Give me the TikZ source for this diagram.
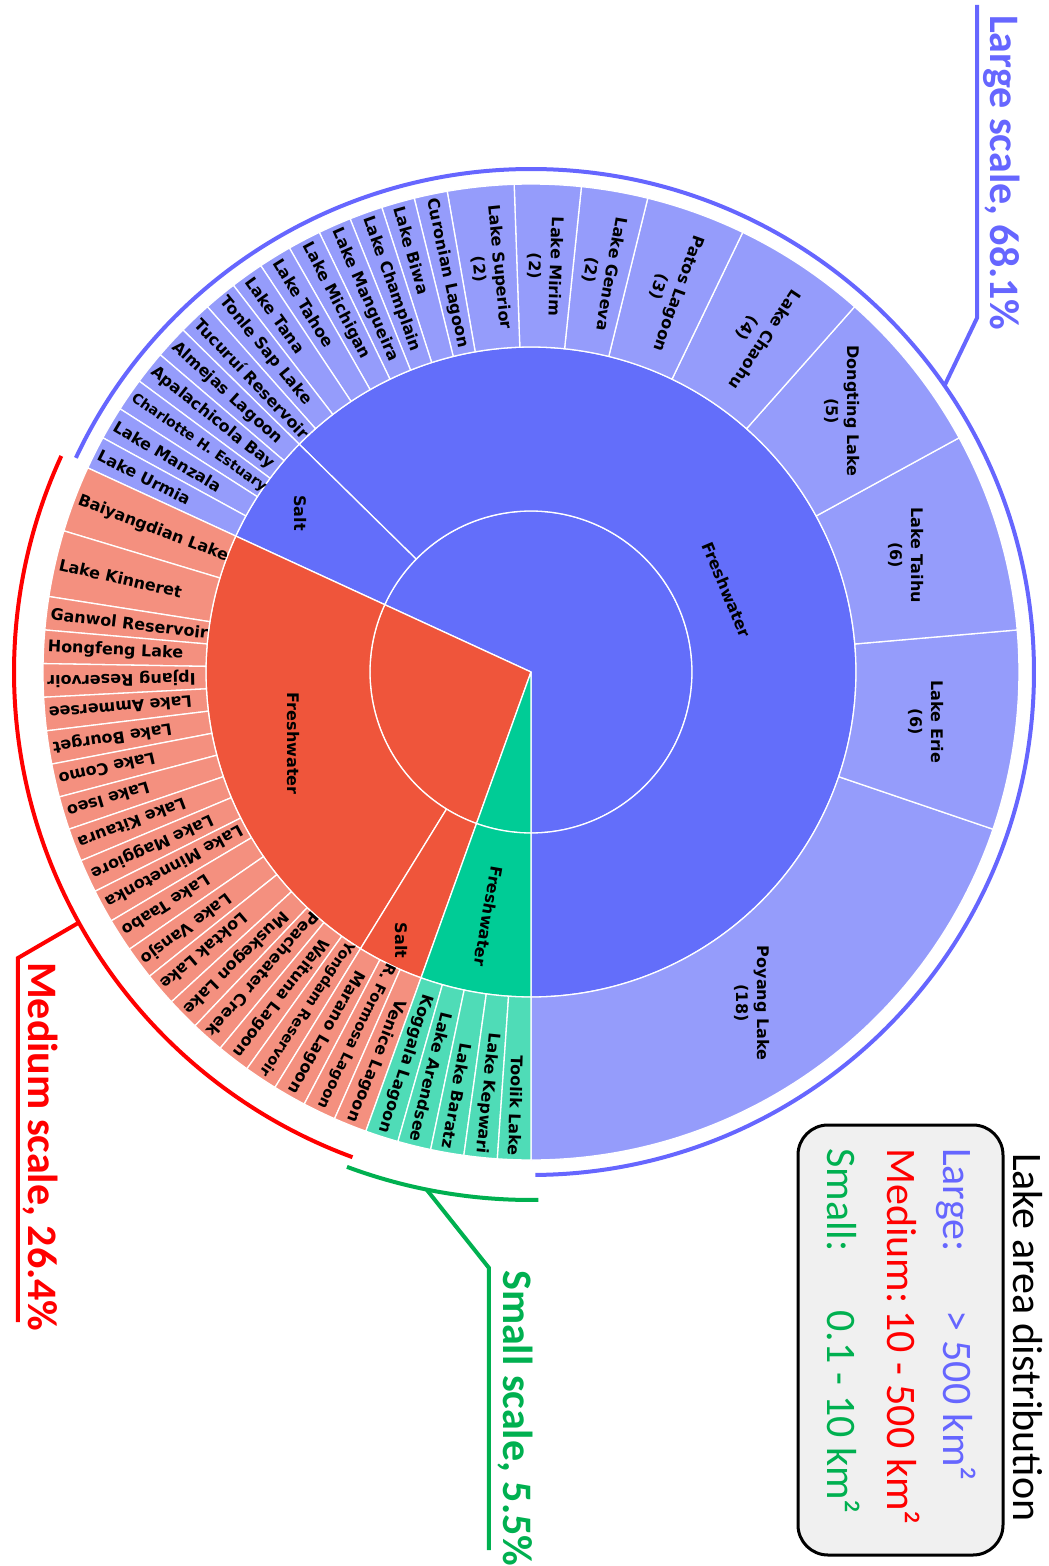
\documentclass[tikz,border=0pt]{standalone}
\usepackage{fontspec}
\setmainfont{Carlito}
\newfontfamily\lblfont{DejaVu Sans}
\definecolor{bluedark}{HTML}{636EFA}
\definecolor{bluelight}{HTML}{959CFB}
\definecolor{reddark}{HTML}{EF553B}
\definecolor{redlight}{HTML}{F4907F}
\definecolor{greendark}{HTML}{00CC96}
\definecolor{greenlight}{HTML}{4FDCB7}
\definecolor{annblue}{HTML}{6666FF}
\definecolor{annred}{HTML}{FF0000}
\definecolor{anngreen}{HTML}{00B050}
\definecolor{legendfill}{HTML}{F0F0F0}

% angle of a position on the ring, counted in lakes (91 in total),
% starting at the bottom and turning counter-clockwise
\newcommand{\unitangle}[2]{\pgfmathsetmacro#1{-90+(#2)*3.956044}}

% one wedge of the sunburst: colour, inner radius, outer radius, first unit, last unit
\newcommand{\ringseg}[5]{%
  \unitangle\segA{#4}\unitangle\segB{#5}%
  \filldraw[fill=#1, segline] (\segA:#2) -- (\segA:#3)
    arc[start angle=\segA, end angle=\segB, radius=#3pt]
    -- (\segB:#2) arc[start angle=\segB, end angle=\segA, radius=#2pt] -- cycle;}
% central pie slice: colour, radius, first unit, last unit
\newcommand{\pieseg}[4]{%
  \unitangle\segA{#3}\unitangle\segB{#4}%
  \filldraw[fill=#1, segline] (0,0) -- (\segA:#2)
    arc[start angle=\segA, end angle=\segB, radius=#2pt] -- cycle;}

% radial lake name reading towards the centre
\newcommand{\inlab}[4][16]{%
  \unitangle\labA{#3}%
  \node[lab, font=\lblfont\bfseries\fontsize{#1}{#1}\selectfont,
        rotate=\labA-180, anchor=west] (#2) at (\labA:484) {#4};}
% radial lake name reading away from the centre
\newcommand{\outlab}[4][16]{%
  \unitangle\labA{#3}%
  \node[lab, font=\lblfont\bfseries\fontsize{#1}{#1}\selectfont,
        rotate=\labA, anchor=east] (#2) at (\labA:484) {#4};}
% radial two-line label centred in its wedge
\newcommand{\twolab}[3]{%
  \unitangle\labA{#2}%
  \node[lab, align=center, rotate=\labA-180] (#1) at (\labA:406) {#3};}

\tikzset{
  segline/.style={draw=white, line width=1.3pt, line join=round},
  lab/.style={inner sep=0pt, text=black,
              font=\lblfont\bfseries\fontsize{16}{21}\selectfont},
  flat/.style={lab, align=center, rotate=-90},
  callout/.style={line width=4pt, line join=miter},
  bigtxt/.style={inner sep=0pt, rotate=-90, anchor=base west,
                 font=\bfseries\fontsize{42}{50}\selectfont},
  legtxt/.style={inner sep=0pt, rotate=-90, anchor=base west,
                 font=\fontsize{42}{50}\selectfont}
}

\begin{document}
\begin{tikzpicture}[x=1pt, y=1pt]
\useasboundingbox (-531,-894) rectangle (518,672);

% ---------- inner ring: lake size class ----------
\pieseg{bluedark}{161}{0}{62}
\pieseg{reddark}{161}{62}{86}
\pieseg{greendark}{161}{86}{91}

% ---------- middle ring: water type ----------
\ringseg{bluedark}{161}{325}{0}{57}
\ringseg{bluedark}{161}{325}{57}{62}
\ringseg{reddark}{161}{325}{62}{83}
\ringseg{reddark}{161}{325}{83}{86}
\ringseg{greendark}{161}{325}{86}{91}

% ---------- outer ring: lakes ----------
% large, freshwater
\ringseg{bluelight}{325}{488}{0}{18}
\ringseg{bluelight}{325}{488}{18}{24}
\ringseg{bluelight}{325}{488}{24}{30}
\ringseg{bluelight}{325}{488}{30}{35}
\ringseg{bluelight}{325}{488}{35}{39}
\ringseg{bluelight}{325}{488}{39}{42}
\ringseg{bluelight}{325}{488}{42}{44}
\ringseg{bluelight}{325}{488}{44}{46}
\ringseg{bluelight}{325}{488}{46}{48}
\foreach \u in {48,...,56} {\ringseg{bluelight}{325}{488}{\u}{\u+1}}
% large, salt
\foreach \u in {57,...,61} {\ringseg{bluelight}{325}{488}{\u}{\u+1}}
% medium
\ringseg{redlight}{325}{488}{62}{64}
\ringseg{redlight}{325}{488}{64}{66}
\foreach \u in {66,...,85} {\ringseg{redlight}{325}{488}{\u}{\u+1}}
% small
\foreach \u in {86,...,90} {\ringseg{greenlight}{325}{488}{\u}{\u+1}}

% ---------- middle ring labels ----------
\node[lab, rotate=-67.25] (bfresh) at (22.75:212) {Freshwater};
\node[flat] (bsalt) at (145.4:280) {Salt};
\node[flat] (rfresh) at (196.8:248) {Freshwater};
\node[flat] (rsalt) at (244.3:298) {Salt};
\node[lab, rotate=-99.9] (gfresh) at (260.1:248) {Freshwater};

% ---------- lake labels ----------
\node[flat] (poyang) at (-56.3:398) {Poyang Lake\\(18)};
\node[flat] (erie) at (-7.2:398) {Lake Erie\\(6)};
\node[flat] (taihu) at (17.3:393) {Lake Taihu\\(6)};
\node[flat] (dongting) at (40:406) {Dongting Lake\\(5)};
\twolab{chaohu}{37}{Lake Chaohu\\(4)}
\twolab{patos}{40.5}{Patos Lagoon\\(3)}
\twolab{geneva}{43}{Lake Geneva\\(2)}
\twolab{mirim}{45}{Lake Mirim\\(2)}
\twolab{superior}{47}{Lake Superior\\(2)}
\inlab{curonian}{48.5}{Curonian Lagoon}
\inlab{biwa}{49.5}{Lake Biwa}
\inlab{champlain}{50.5}{Lake Champlain}
\inlab{mangueira}{51.5}{Lake Mangueira}
\inlab{michigan}{52.5}{Lake Michigan}
\inlab{tahoe}{53.5}{Lake Tahoe}
\inlab{tana}{54.5}{Lake Tana}
\inlab{tonlesap}{55.5}{Tonle Sap Lake}
\inlab{tucurui}{56.5}{Tucuruí Reservoir}
\inlab{almejas}{57.5}{Almejas Lagoon}
\inlab{apalachicola}{58.5}{Apalachicola Bay}
\inlab[14]{charlotte}{59.5}{Charlotte H. Estuary}
\inlab{manzala}{60.5}{Lake Manzala}
\inlab{urmia}{61.5}{Lake Urmia}
\inlab{baiyangdian}{63}{Baiyangdian Lake}
\inlab{kinneret}{65}{Lake Kinneret}
\inlab{ganwol}{66.5}{Ganwol Reservoir}
\inlab{hongfeng}{67.5}{Hongfeng Lake}
\outlab{ipjang}{68.5}{Ipjang Reservoir}
\outlab{ammersee}{69.5}{Lake Ammersee}
\outlab{bourget}{70.5}{Lake Bourget}
\outlab{como}{71.5}{Lake Como}
\outlab{iseo}{72.5}{Lake Iseo}
\outlab{kitaura}{73.5}{Lake Kitaura}
\outlab{maggiore}{74.5}{Lake Maggiore}
\outlab{minnetonka}{75.5}{Lake Minnetonka}
\outlab{taabo}{76.5}{Lake Taabo}
\outlab{vansjo}{77.5}{Lake Vansjo}
\outlab{loktak}{78.5}{Loktak Lake}
\outlab{muskegon}{79.5}{Muskegon Lake}
\outlab{peacheater}{80.5}{Peacheater Creek}
\outlab{waituna}{81.5}{Waituna Lagoon}
\outlab[14.5]{yongdam}{82.5}{Yongdam Reservoir}
\outlab{marano}{83.5}{Marano Lagoon}
\outlab[14.8]{formosa}{84.5}{R. Formosa Lagoon}
\outlab{venice}{85.5}{Venice Lagoon}
\outlab{koggala}{86.5}{Koggala Lagoon}
\outlab{arendsee}{87.5}{Lake Arendsee}
\outlab{baratz}{88.5}{Lake Baratz}
\outlab{kepwari}{89.5}{Lake Kepwari}
\outlab{toolik}{90.5}{Toolik Lake}

% ---------- class brackets and callouts ----------
\draw[annblue, line width=4pt] (-89.5:503) arc[start angle=-89.5, end angle=154.8, radius=503pt];
\draw[annred, line width=4pt] (155.3:517) arc[start angle=155.3, end angle=249.8, radius=517pt];
\draw[anngreen, line width=4pt] (249.6:528) arc[start angle=249.6, end angle=270.8, radius=528pt];

\coordinate (bluefoot) at (34.7:503);
\coordinate (blueknee) at (446,354);
\coordinate (bluetop) at (446,667);
\draw[annblue, callout] (bluefoot) -- (blueknee) -- (bluetop);
\node[bigtxt, text=annblue] (largecap) at (459,657) {Large scale, 68.1\%};

\coordinate (redfoot) at (209:517);
\coordinate (redknee) at (-513,-286);
\coordinate (redend) at (-513,-650);
\draw[annred, callout] (redfoot) -- (redknee) -- (redend);
\node[bigtxt, text=annred] (mediumcap) at (-502,-290) {Medium scale, 26.4\%};

\coordinate (greenfoot) at (258.6:528);
\coordinate (greenknee) at (-42,-596);
\coordinate (greenend) at (-42,-878);
\draw[anngreen, callout] (greenfoot) -- (greenknee) -- (greenend);
\node[bigtxt, text=anngreen] (smallcap) at (-28,-598) {Small scale, 5.5\%};

% ---------- legend ----------
\draw[fill=legendfill, draw=black, line width=3pt, rounded corners=30pt]
  (267,-453) rectangle (472,-883);
\node[legtxt, text=black] (legtitle) at (482,-481) {Lake area distribution};
\node[legtxt, text=annblue] (leglarge) at (412,-476) {Large:};
\node[legtxt, text=annblue] (leglargev) at (412,-638) {> 500 km²};
\node[legtxt, text=annred] (legmedium) at (356,-476) {Medium:};
\node[legtxt, text=annred] (legmediumv) at (356,-638) {10 - 500 km²};
\node[legtxt, text=anngreen] (legsmall) at (296,-476) {Small:};
\node[legtxt, text=anngreen] (legsmallv) at (296,-638) {0.1 - 10 km²};
\end{tikzpicture}
\end{document}
